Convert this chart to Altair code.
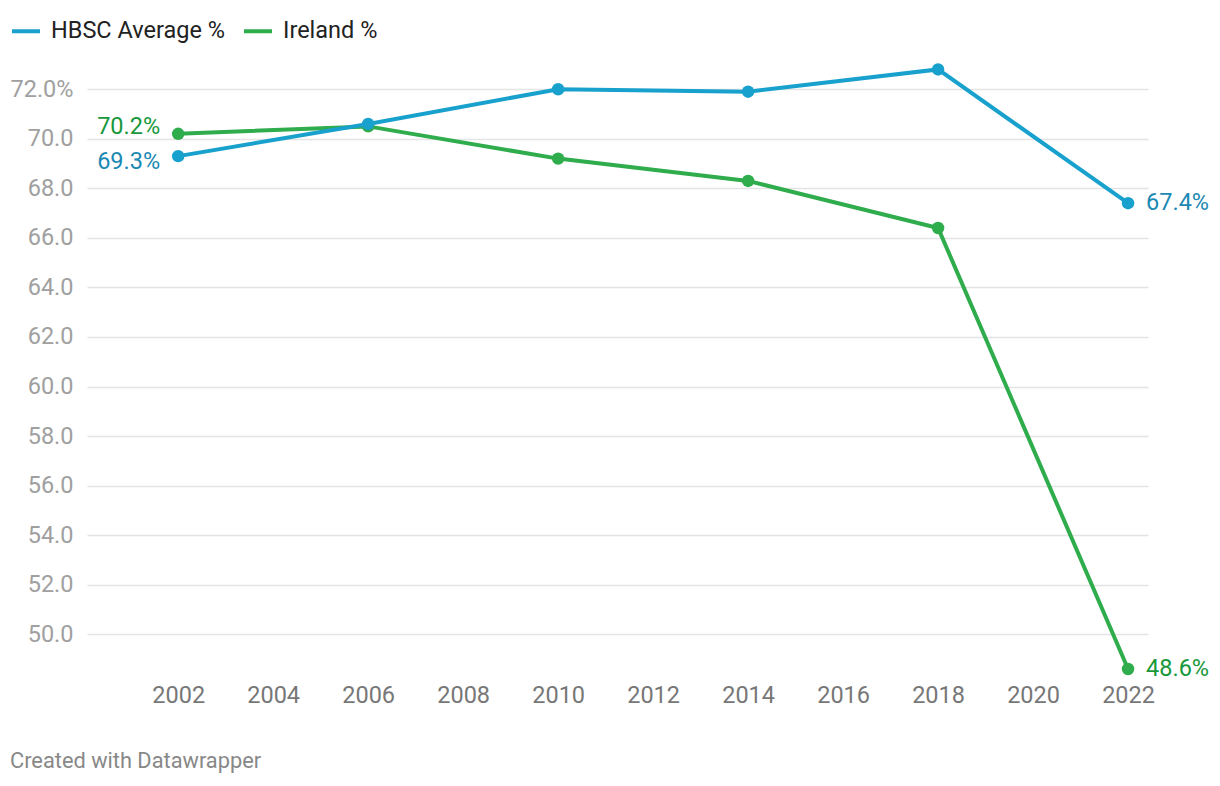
import altair as alt
import pandas as pd

years = [2002, 2006, 2010, 2014, 2018, 2022]
hbsc = [69.3, 70.6, 72.0, 71.9, 72.8, 67.4]
ireland = [70.2, 70.5, 69.2, 68.3, 66.4, 48.6]
series_names = ["HBSC Average %", "Ireland %"]
line_colors = ["#18a1cd", "#2fac4c"]
label_colors = ["#1b89b3", "#17983a"]
x_ticks = list(range(2002, 2023, 2))
y_ticks = list(range(50, 73, 2))

df = pd.DataFrame({
    "year": years * 2,
    "value": hbsc + ireland,
    "series": [series_names[0]] * len(years) + [series_names[1]] * len(years),
})

FONT = "Roboto"
FS = 23.5

color = alt.Color(
    "series:N",
    scale=alt.Scale(domain=series_names, range=line_colors),
    legend=alt.Legend(
        title=None, orient="none", direction="horizontal",
        legendX=-77, legendY=-45,
        symbolType="stroke", symbolSize=784, symbolStrokeWidth=4,
        labelFontSize=FS, labelColor="#222222", labelFont=FONT, labelLimit=0,
        labelOffset=9, columnPadding=11,
    ),
)
x = alt.X(
    "year:Q",
    scale=alt.Scale(domain=[2000.08, 2022.42], nice=False, zero=False),
    axis=alt.Axis(values=x_ticks, format="d", grid=False, domain=False, ticks=False,
                  labelFontSize=FS, labelColor="#777777", labelPadding=3, title=None,
                  labelFont=FONT),
)
y = alt.Y(
    "value:Q",
    scale=alt.Scale(domain=[48.155, 73.18], nice=False, zero=False),
    axis=alt.Axis(values=y_ticks,
                  labelExpr="datum.value == 72 ? format(datum.value, '.1f') + '%' : format(datum.value, '.1f')",
                  grid=True, gridColor="#e4e4e4", gridWidth=1.6, domain=False, ticks=False,
                  labelPadding=14, labelFontSize=FS, labelColor="#a0a0a0", title=None,
                  labelFont=FONT),
)

base = alt.Chart(df).transform_calculate(
    label="format(datum.value, '.1f') + '%'"
)

layers = []
label_dy_first = {series_names[0]: 6, series_names[1]: -7}
for name, lc in zip([series_names[1], series_names[0]], [label_colors[1], label_colors[0]]):
    d = base.transform_filter(alt.datum.series == name)
    layers.append(d.mark_line(strokeWidth=4).encode(x=x, y=y, color=color))
    layers.append(d.mark_circle(size=155, opacity=1).encode(x=x, y=y, color=color))
    layers.append(
        d.transform_filter(alt.datum.year == years[0])
        .mark_text(align="right", dx=-18, dy=label_dy_first[name], fontSize=FS, font=FONT, color=lc)
        .encode(x=x, y=y, text="label:N")
    )
    layers.append(
        d.transform_filter(alt.datum.year == years[-1])
        .mark_text(align="left", dx=18, fontSize=FS, font=FONT, color=lc)
        .encode(x=x, y=y, text="label:N")
    )

chart = alt.layer(*layers).properties(
    width=1061,
    height=620,
    autosize=alt.AutoSizeParams(type="none"),
    padding={"left": 79, "top": 52, "right": 64, "bottom": 104},
    title=alt.TitleParams(
        "Created with Datawrapper", orient="bottom", anchor="start", frame="bounds",
        fontSize=21.8, color="#888888", fontWeight="normal", font=FONT,
        dx=0, offset=44,
    ),
).configure(font=FONT, background="white").configure_view(stroke=None)

chart.save("out.html", embed_options={"renderer": "svg", "actions": False})
